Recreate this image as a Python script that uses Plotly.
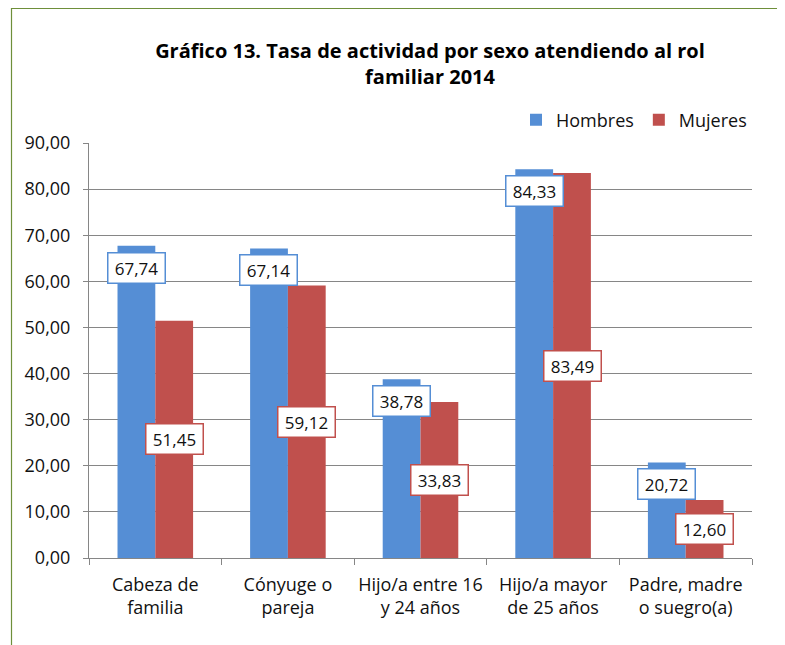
import plotly.graph_objects as go

categories = ["Cabeza de<br>familia", "Cónyuge o<br>pareja", "Hijo/a entre 16<br>y 24 años",
              "Hijo/a mayor<br>de 25 años", "Padre, madre<br>o suegro(a)"]
hombres = [67.74, 67.14, 38.78, 84.33, 20.72]
mujeres = [51.45, 59.12, 33.83, 83.49, 12.60]
y_ticks = [0, 10, 20, 30, 40, 50, 60, 70, 80, 90]

BLUE = "#558ED5"
RED = "#C0504D"
FONT = "Open Sans"
TXT = "#111111"

W, H = 785, 645
L, R, T, B = 81, 41, 135, 95
pw, ph = W - L - R, H - T - B

fig = go.Figure()
fig.add_trace(go.Bar(name="Hombres", x=categories, y=hombres, marker_color=BLUE, marker_line_width=0))
fig.add_trace(go.Bar(name="Mujeres", x=categories, y=mujeres, marker_color=RED, marker_line_width=0))

def fmt(v):
    return f"{v:.2f}".replace(".", ",")

ann = []
for c, v in zip(categories, hombres):
    ann.append(dict(x=c, y=v, xref="x", yref="y", text=fmt(v), showarrow=False,
                    xshift=-19, yshift=-6, yanchor="top", xanchor="center",
                    bgcolor="white", bordercolor=BLUE, borderwidth=1.5, borderpad=2,
                    width=52, height=25, font=dict(family=FONT, size=17, color=TXT)))
for c, v in zip(categories, mujeres):
    ann.append(dict(x=c, y=v / 2, xref="x", yref="y", text=fmt(v), showarrow=False,
                    xshift=19, yanchor="middle", xanchor="center",
                    bgcolor="white", bordercolor=RED, borderwidth=1.5, borderpad=2,
                    width=52, height=25, font=dict(family=FONT, size=17, color=TXT)))

fig.update_layout(
    width=W, height=H,
    margin=dict(l=L, r=R, t=T, b=B, autoexpand=False),
    paper_bgcolor="white", plot_bgcolor="white",
    barmode="group", bargap=0.43, bargroupgap=0,
    font=dict(family=FONT, size=18, color=TXT),
    title=dict(text="<b>Gráfico 13. Tasa de actividad por sexo atendiendo al rol<br>familiar 2014</b>",
               x=(430 - 8) / W, xanchor="center", y=1 - 50 / H, yanchor="middle",
               font=dict(family=FONT, size=20, color="black")),
    legend=dict(orientation="h", x=1.0, xanchor="right", y=(ph + T - 112) / ph, yanchor="middle",
                font=dict(family=FONT, size=18, color=TXT), itemwidth=30, traceorder="normal",
                bgcolor="rgba(0,0,0,0)"),
    separators=",.",
    annotations=ann,
    showlegend=True,
)
fig.update_yaxes(range=[0, 90], tickvals=y_ticks, tickformat=".2f",
                 showgrid=True, gridcolor="#868686", gridwidth=1,
                 showline=True, linecolor="#868686", linewidth=1,
                 ticks="outside", ticklen=5, tickcolor="#868686", zeroline=False,
                 automargin=False, ticklabelstandoff=9,
                 tickfont=dict(family=FONT, size=18, color=TXT))
fig.update_xaxes(showline=True, linecolor="#868686", linewidth=1,
                 ticks="outside", tickson="boundaries", ticklen=6, tickcolor="#868686",
                 tickangle=0, automargin=False, ticklabelstandoff=10,
                 tickfont=dict(family=FONT, size=18, color=TXT))

# outer chart border (green)
fig.add_shape(type="rect", xref="paper", yref="paper",
              x0=(3.5 - L) / pw, x1=(W + 20 - L) / pw,
              y0=-(B + 20) / ph, y1=(ph + T - 0.5) / ph,
              line=dict(color="#6E8F3A", width=1.2), layer="below")

fig.write_html("out.html")
